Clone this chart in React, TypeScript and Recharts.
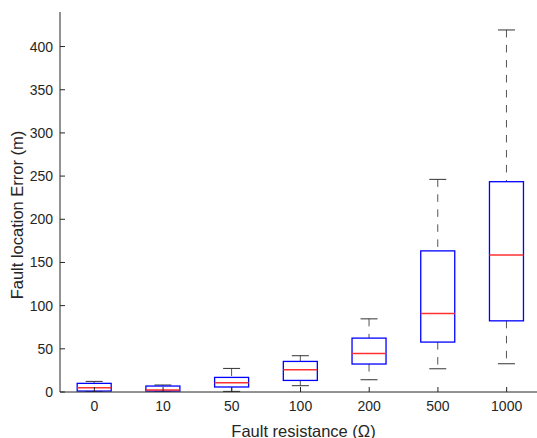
import { Bar, ComposedChart, XAxis, YAxis } from "recharts";

// fault resistance groups (ohm)
const resistances = ["0", "10", "50", "100", "200", "500", "1000"];

// box plot stats, location error in m
const whiskerLow = [0.3, 0.1, 0.7, 7.3, 14.2, 26.9, 32.7];
const q1 = [1.1, 1.1, 5.8, 13.4, 32.4, 57.8, 82.4];
const median = [5, 2.3, 10.8, 25.8, 44.6, 90.9, 158.7];
const q3 = [10, 6.9, 16.9, 35.4, 62.4, 163.4, 243.5];
const whiskerHigh = [12.3, 8.1, 27.3, 42, 84.7, 246.2, 419.2];

const yTicks = [0, 50, 100, 150, 200, 250, 300, 350, 400];

const data = resistances.map((name, i) => ({
  name,
  lo: whiskerLow[i],
  q1: q1[i],
  med: median[i],
  q3: q3[i],
  hi: whiskerHigh[i],
}));

const axisColor = "#262626";
const font = "'Liberation Sans', Arial, sans-serif";

const BoxShape = (props: any) => {
  const { x, y, width, height, payload } = props;
  const top = Math.min(y, y + height);
  const h = Math.abs(height);
  const span = payload.hi - payload.lo || 1;
  const toY = (v: number) => top + ((payload.hi - v) / span) * h;
  const cx = x + width / 2;
  const cap = width / 4;
  const yHi = toY(payload.hi);
  const yQ3 = toY(payload.q3);
  const yMed = toY(payload.med);
  const yQ1 = toY(payload.q1);
  const yLo = toY(payload.lo);
  return (
    <g>
      <line x1={cx} x2={cx} y1={yHi} y2={yQ3} stroke="#555" strokeDasharray="7.5 7.5" />
      <line x1={cx} x2={cx} y1={yQ1} y2={yLo} stroke="#555" strokeDasharray="7.5 7.5" />
      <line x1={cx - cap} x2={cx + cap} y1={yHi} y2={yHi} stroke="#333" />
      <line x1={cx - cap} x2={cx + cap} y1={yLo} y2={yLo} stroke="#333" />
      <rect x={x} y={yQ3} width={width} height={yQ1 - yQ3} fill="none" stroke="#0000ff" strokeWidth={1.3} />
      <line x1={x} x2={x + width} y1={yMed} y2={yMed} stroke="#ff3030" strokeWidth={1.5} />
    </g>
  );
};

export default function App() {
  return (
    <div
      style={{
        position: "absolute",
        left: 0,
        top: 0,
        width: 537,
        height: 438,
        overflow: "hidden",
        background: "#fff",
      }}
    >
      <ComposedChart
        width={545}
        height={438}
        data={data}
        margin={{ top: 12, right: 4, bottom: 0, left: 0 }}
        barCategoryGap="25%"
        style={{ fontFamily: font }}
      >
        <XAxis
          xAxisId="bottom"
          dataKey="name"
          height={46}
          stroke={axisColor}
          tickSize={-5}
          tickMargin={14}
          tick={{ fill: axisColor, fontSize: 14 }}
          label={{
            value: "Fault resistance (Ω)",
            position: "insideBottom",
            offset: 1.5,
            dx: 3,
            fill: axisColor,
            fontSize: 16.5,
          }}
        />
        <XAxis
          xAxisId="top"
          orientation="top"
          dataKey="name"
          height={0}
          stroke={axisColor}
          tickSize={-5}
          tick={false}
        />
        <YAxis
          yAxisId="left"
          width={60}
          domain={[0, 440]}
          ticks={yTicks}
          allowDataOverflow
          stroke={axisColor}
          tickSize={-5}
          tickMargin={12}
          tick={{ fill: axisColor, fontSize: 14 }}
          label={{
            value: "Fault location Error (m)",
            angle: -90,
            position: "center",
            dx: -12.5,
            dy: 13,
            fill: axisColor,
            fontSize: 16.5,
          }}
        />
        <YAxis
          yAxisId="right"
          orientation="right"
          width={0}
          domain={[0, 440]}
          ticks={yTicks}
          allowDataOverflow
          stroke={axisColor}
          tickSize={-5}
          tick={false}
        />
        <Bar
          xAxisId="bottom"
          yAxisId="left"
          dataKey={(d: any) => [d.lo, d.hi]}
          shape={BoxShape}
          isAnimationActive={false}
        />
      </ComposedChart>
    </div>
  );
}
